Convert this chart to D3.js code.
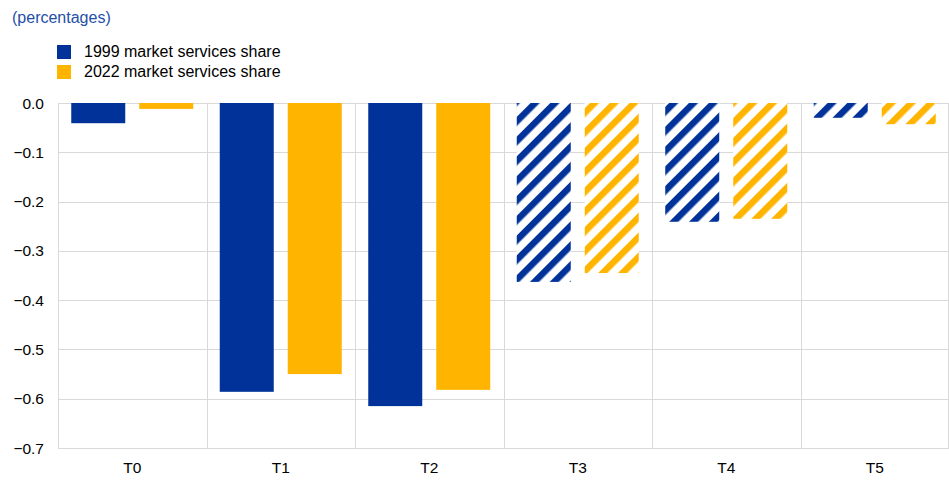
<!DOCTYPE html>
<html><head><meta charset="utf-8">
<script src="https://cdn.jsdelivr.net/npm/d3@7"></script>
<style>body{margin:0;background:#fff;}svg{display:block;font-family:"Liberation Sans",Arial,sans-serif;}</style>
</head><body><svg id="c" width="949" height="490"></svg>
<script>
const categories = ["T0","T1","T2","T3","T4","T5"];
const series1999 = [-0.041,-0.586,-0.615,-0.363,-0.241,-0.030];
const series2022 = [-0.012,-0.550,-0.582,-0.345,-0.235,-0.043];
const hatched = [false,false,false,true,true,true];
const yTicks = [0.0,-0.1,-0.2,-0.3,-0.4,-0.5,-0.6,-0.7];
const seriesNames = ["1999 market services share","2022 market services share"];
const colors = ["#003299","#FFB400"];

(function(){
const svg = d3.select("#c");
const mLeft = 58, mRight = 949, mTop = 103, mBottom = 448;
const x = d3.scaleBand().domain(categories).range([mLeft,mRight]);
const y = d3.scaleLinear().domain([-0.7,0]).range([mBottom,mTop]);

const defs = svg.append("defs");
colors.forEach((c,i)=>{
  const p = defs.append("pattern").attr("id","h"+i).attr("patternUnits","userSpaceOnUse")
    .attr("width",14).attr("height",14).attr("patternTransform","rotate(45)");
  p.append("rect").attr("width",14).attr("height",14).attr("fill","#fff");
  p.append("rect").attr("x",0).attr("y",0).attr("width",6.5).attr("height",14).attr("fill",c);
});

svg.append("g").selectAll("line").data(yTicks).join("line")
  .attr("x1",mLeft).attr("x2",mRight).attr("y1",d=>Math.round(y(d))+0.5).attr("y2",d=>Math.round(y(d))+0.5)
  .attr("stroke","#d9d9d9").attr("stroke-width",1);
const seps = categories.slice(1).map(d=>x(d)).concat([mRight-1]);
svg.append("g").selectAll("line").data(seps).join("line")
  .attr("x1",d=>Math.round(d)+0.5).attr("x2",d=>Math.round(d)+0.5)
  .attr("y1",mTop).attr("y2",mBottom).attr("stroke","#d9d9d9");
svg.append("line").attr("x1",mLeft+0.5).attr("x2",mLeft+0.5).attr("y1",mTop).attr("y2",mBottom).attr("stroke","#d9d9d9");

const barW = 54, gap = 14, pad = (x.bandwidth() - 2*barW - gap)/2;
[series1999, series2022].forEach((vals,si)=>{
  svg.append("g").selectAll("rect").data(vals).join("rect")
    .attr("x",(d,i)=>x(categories[i]) + pad + si*(barW+gap))
    .attr("y",y(0))
    .attr("width",barW)
    .attr("height",d=>y(d)-y(0))
    .attr("fill",(d,i)=>hatched[i] ? `url(#h${si})` : colors[si]);
});

svg.append("g").selectAll("text").data(yTicks).join("text")
  .attr("x",44).attr("y",d=>y(d)+5.5).attr("text-anchor","end")
  .attr("font-size",15.5).attr("fill","#000").text(d=>d3.format(".1f")(d));
svg.append("g").selectAll("text").data(categories).join("text")
  .attr("x",d=>x(d)+x.bandwidth()/2).attr("y",473).attr("text-anchor","middle")
  .attr("font-size",15.5).attr("fill","#000").text(d=>d);

svg.append("text").attr("x",12).attr("y",23).attr("font-size",16).attr("fill","#1f4fa8").text("(percentages)");
seriesNames.forEach((n,i)=>{
  svg.append("rect").attr("x",57).attr("y",45+i*20).attr("width",14).attr("height",14).attr("fill",colors[i]);
  svg.append("text").attr("x",84).attr("y",57+i*20).attr("font-size",16).attr("fill","#000").text(n);
});
})();
</script></body></html>
